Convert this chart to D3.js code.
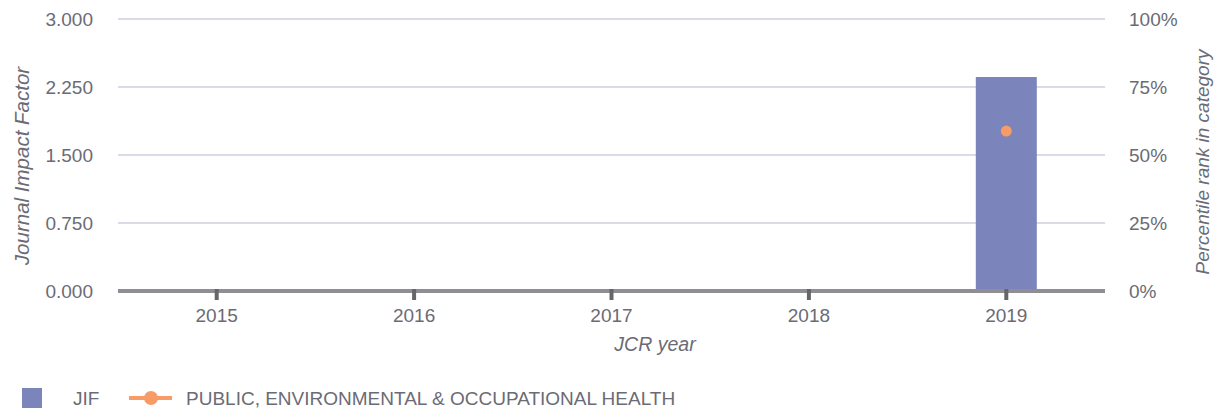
<!DOCTYPE html>
<html>
<head>
<meta charset="utf-8">
<script src="https://cdn.jsdelivr.net/npm/d3@7"></script>
<style>
  body { margin: 0; background: #fff; }
  text { font-family: "Liberation Sans", Arial, sans-serif; fill: #6b6b75; }
</style>
</head>
<body>
<div id="chart"></div>
<script>
// data
var years = ["2015", "2016", "2017", "2018", "2019"];
var jif = [null, null, null, null, 2.36];
var percentile = [null, null, null, null, 58.8];
var jifTicks = [0, 0.75, 1.5, 2.25, 3];
var pctTicks = [0, 25, 50, 75, 100];
var seriesNames = ["JIF", "PUBLIC, ENVIRONMENTAL & OCCUPATIONAL HEALTH"];

var W = 1224, H = 411;
var margin = { top: 19, right: 119, bottom: 120, left: 118 };
var width = W - margin.left - margin.right,
    height = 291 - margin.top;

var svg = d3.select("#chart").append("svg")
    .attr("width", W)
    .attr("height", H);

var g = svg.append("g")
    .attr("transform", "translate(" + margin.left + "," + margin.top + ")");

var x = d3.scaleBand().domain(years).range([0, width]).padding(0);
var yL = d3.scaleLinear().domain([0, 3]).range([height, 0]);
var yR = d3.scaleLinear().domain([0, 100]).range([height, 0]);

// gridlines
g.selectAll("line.grid")
    .data(jifTicks.filter(function(d) { return d > 0; }))
    .enter().append("line")
    .attr("class", "grid")
    .attr("x1", 0).attr("x2", width)
    .attr("y1", function(d) { return yL(d); })
    .attr("y2", function(d) { return yL(d); })
    .attr("stroke", "#dcdae6")
    .attr("stroke-width", 2);

// left axis labels
g.selectAll("text.yl")
    .data(jifTicks)
    .enter().append("text")
    .attr("class", "yl")
    .attr("x", -25)
    .attr("y", function(d) { return yL(d); })
    .attr("dy", "0.35em")
    .attr("text-anchor", "end")
    .style("font-size", "19px")
    .text(function(d) { return d3.format(".3f")(d); });

// right axis labels
g.selectAll("text.yr")
    .data(pctTicks)
    .enter().append("text")
    .attr("class", "yr")
    .attr("x", width + 24)
    .attr("y", function(d) { return yR(d); })
    .attr("dy", "0.35em")
    .attr("text-anchor", "start")
    .style("font-size", "19px")
    .text(function(d) { return d + "%"; });

// bars
var barW = 61;
g.selectAll("rect.bar")
    .data(years.map(function(y, i) { return { year: y, v: jif[i] }; })
        .filter(function(d) { return d.v != null; }))
    .enter().append("rect")
    .attr("class", "bar")
    .attr("x", function(d) { return x(d.year) + x.bandwidth() / 2 - barW / 2; })
    .attr("y", function(d) { return yL(d.v); })
    .attr("width", barW)
    .attr("height", function(d) { return height - yL(d.v); })
    .attr("fill", "#7b84bb");

// baseline
g.append("line")
    .attr("x1", 0).attr("x2", width)
    .attr("y1", height).attr("y2", height)
    .attr("stroke", "#8e8e94")
    .attr("stroke-width", 4);

// x ticks
g.selectAll("line.xt")
    .data(years)
    .enter().append("line")
    .attr("class", "xt")
    .attr("x1", function(d) { return x(d) + x.bandwidth() / 2; })
    .attr("x2", function(d) { return x(d) + x.bandwidth() / 2; })
    .attr("y1", height - 2).attr("y2", height + 9)
    .attr("stroke", "#666")
    .attr("stroke-width", 4);

g.selectAll("text.xl")
    .data(years)
    .enter().append("text")
    .attr("class", "xl")
    .attr("x", function(d) { return x(d) + x.bandwidth() / 2; })
    .attr("y", 322 - margin.top)
    .attr("text-anchor", "middle")
    .style("font-size", "19px")
    .text(function(d) { return d; });

// percentile dots
g.selectAll("circle.pt")
    .data(years.map(function(y, i) { return { year: y, v: percentile[i] }; })
        .filter(function(d) { return d.v != null; }))
    .enter().append("circle")
    .attr("class", "pt")
    .attr("cx", function(d) { return x(d.year) + x.bandwidth() / 2; })
    .attr("cy", function(d) { return yR(d.v); })
    .attr("r", 5.5)
    .attr("fill", "#f79c66");

// axis titles
svg.append("text")
    .attr("transform", "translate(29,166) rotate(-90)")
    .attr("text-anchor", "middle")
    .style("font-size", "20.5px")
    .style("font-style", "italic")
    .text("Journal Impact Factor");

svg.append("text")
    .attr("transform", "translate(1209,162) rotate(-90)")
    .attr("text-anchor", "middle")
    .style("font-size", "19px")
    .style("font-style", "italic")
    .text("Percentile rank in category");

svg.append("text")
    .attr("x", 655)
    .attr("y", 351)
    .attr("text-anchor", "middle")
    .style("font-size", "19.5px")
    .style("font-style", "italic")
    .text("JCR year");

// legend
var leg = svg.append("g").attr("transform", "translate(0,398)");
leg.append("rect")
    .attr("x", 22).attr("y", -10)
    .attr("width", 20).attr("height", 20)
    .attr("fill", "#7b84bb");
leg.append("text")
    .attr("x", 73).attr("y", 0).attr("dy", "0.35em")
    .style("font-size", "19px")
    .text(seriesNames[0]);
leg.append("line")
    .attr("x1", 129).attr("x2", 172)
    .attr("y1", 0).attr("y2", 0)
    .attr("stroke", "#f79c66")
    .attr("stroke-width", 4);
leg.append("circle")
    .attr("cx", 151).attr("cy", 0).attr("r", 7)
    .attr("fill", "#f79c66");
leg.append("text")
    .attr("x", 186).attr("y", 0).attr("dy", "0.35em")
    .style("font-size", "19px")
    .text(seriesNames[1]);
</script>
</body>
</html>
